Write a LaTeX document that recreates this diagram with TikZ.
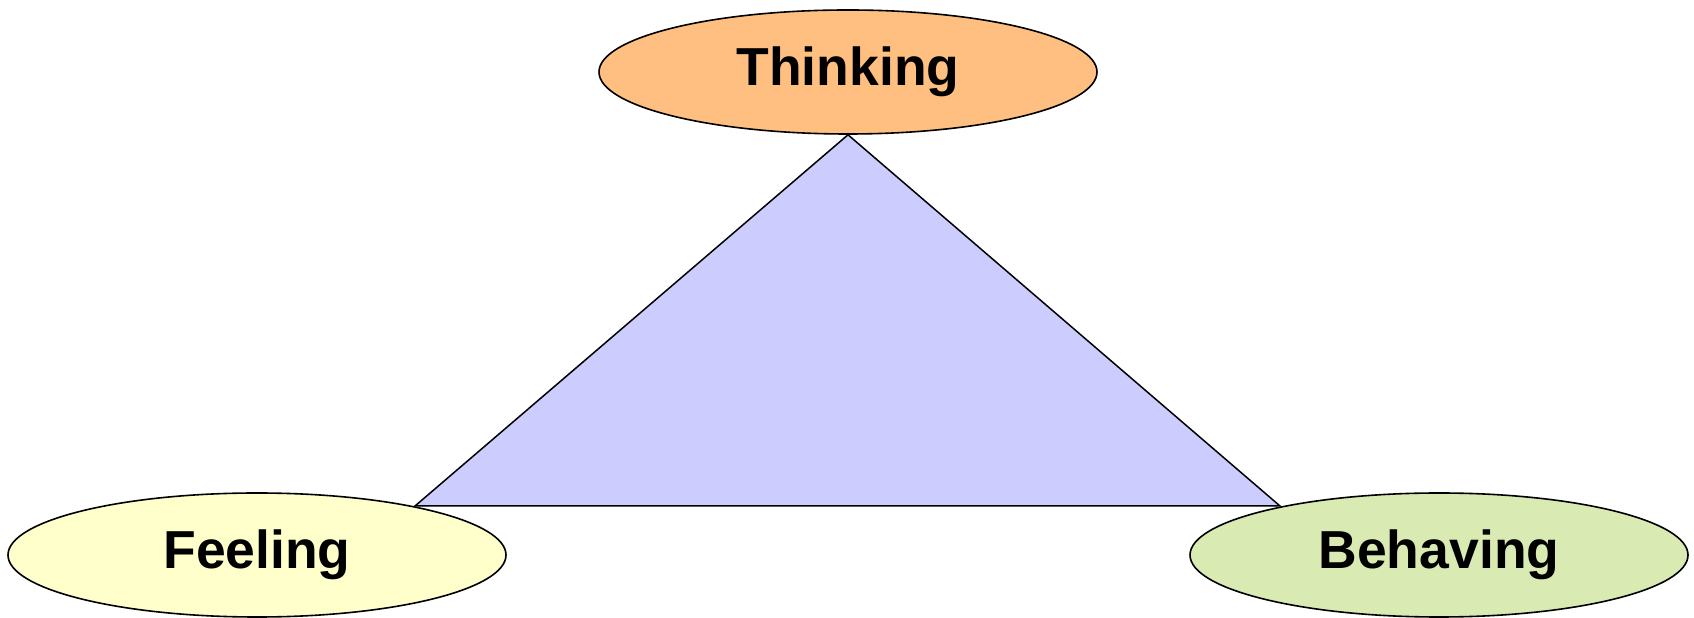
\documentclass[tikz,border=0pt]{standalone}
\usepackage{fontspec}
\setmainfont{Liberation Sans}
\usetikzlibrary{shapes.geometric,backgrounds}
\definecolor{thinkc}{HTML}{FFBF80}
\definecolor{feelc}{HTML}{FFFFCC}
\definecolor{behc}{HTML}{D9EAB3}
\definecolor{tric}{HTML}{CCCCFF}
\tikzset{
  oval/.style={ellipse, draw=black, line width=1.6pt, inner sep=0pt,
    minimum width=498pt, minimum height=124pt,
    font=\fontsize{53.5}{60}\selectfont\bfseries},
  tri/.style={draw=black, line width=1.5pt, fill=tric, line join=miter}
}
\begin{document}
\begin{tikzpicture}[x=1pt,y=1pt]
\useasboundingbox (0,0) rectangle (1694,618);
\node[oval, fill=thinkc] (T) at (848,546) {Thinking};
\node[oval, fill=feelc] (F) at (257,63) {Feeling};
\node[oval, fill=behc] (B) at (1439,63) {Behaving};
\coordinate (tv) at (T.south);
\coordinate (fv) at (415,112);
\coordinate (bv) at (1280,112);
\begin{scope}[on background layer]
\draw[tri] (tv) -- (fv) -- (bv) -- cycle;
\end{scope}
\end{tikzpicture}
\end{document}
